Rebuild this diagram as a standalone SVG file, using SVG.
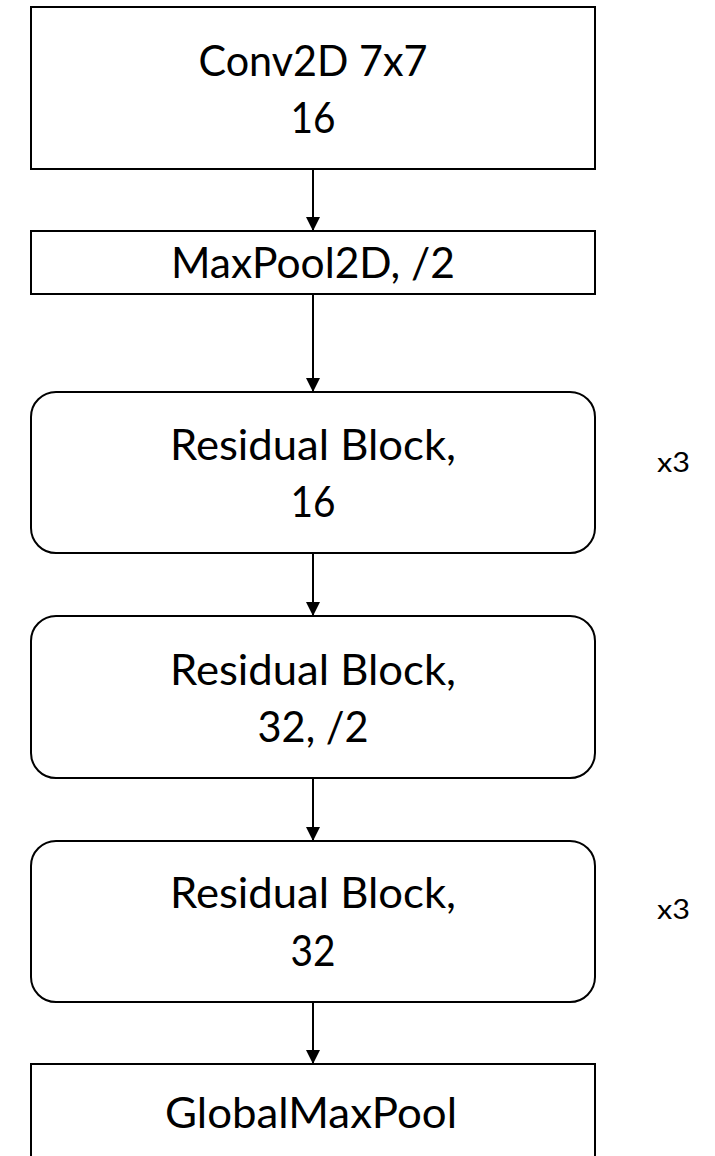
<svg xmlns="http://www.w3.org/2000/svg" width="715" height="1156" viewBox="0 0 715 1156">
  <defs>
    <marker id="arrow" markerWidth="14" markerHeight="14" refX="14" refY="7" orient="auto" markerUnits="userSpaceOnUse">
      <path d="M0,0 L14,7 L0,14 Z" fill="#000"/>
    </marker>
    <style>
      .box { fill: #ffffff; stroke: #000000; stroke-width: 2; }
      .lbl { font-family: Lato, "Open Sans", sans-serif; font-size: 42px; fill: #000000; text-anchor: middle; }
      .side { font-family: Lato, "Open Sans", sans-serif; font-size: 26px; fill: #000000; }
      .conn { stroke: #000000; stroke-width: 2; fill: none; marker-end: url(#arrow); }
    </style>
  </defs>
  <rect width="715" height="1156" fill="#ffffff"/>

  <g id="connectors">
    <line class="conn" x1="313" y1="169" x2="313" y2="231"/>
    <line class="conn" x1="313" y1="294" x2="313" y2="392"/>
    <line class="conn" x1="313" y1="553" x2="313" y2="616"/>
    <line class="conn" x1="313" y1="778" x2="313" y2="841"/>
    <line class="conn" x1="313" y1="1002" x2="313" y2="1064"/>
  </g>

  <g id="conv2d">
    <rect class="box" x="31" y="7" width="564" height="162"/>
    <text class="lbl" x="313" y="76" textLength="229" lengthAdjust="spacingAndGlyphs">Conv2D 7x7</text>
    <text class="lbl" x="313" y="133" textLength="45" lengthAdjust="spacingAndGlyphs">16</text>
  </g>

  <g id="maxpool">
    <rect class="box" x="31" y="231" width="564" height="63"/>
    <text class="lbl" x="313" y="278" textLength="284" lengthAdjust="spacingAndGlyphs">MaxPool2D, /2</text>
  </g>

  <g id="res16">
    <rect class="box" x="31" y="392" width="564" height="161" rx="25" ry="25"/>
    <text class="lbl" x="313" y="460" textLength="286" lengthAdjust="spacingAndGlyphs">Residual Block,</text>
    <text class="lbl" x="313" y="517" textLength="45" lengthAdjust="spacingAndGlyphs">16</text>
  </g>
  <text id="rep1" class="side" x="657" y="472" textLength="33" lengthAdjust="spacingAndGlyphs">x3</text>

  <g id="res32s2">
    <rect class="box" x="31" y="616" width="564" height="162" rx="25" ry="25"/>
    <text class="lbl" x="313" y="685" textLength="286" lengthAdjust="spacingAndGlyphs">Residual Block,</text>
    <text class="lbl" x="313" y="742" textLength="111" lengthAdjust="spacingAndGlyphs">32, /2</text>
  </g>

  <g id="res32">
    <rect class="box" x="31" y="841" width="564" height="161" rx="25" ry="25"/>
    <text class="lbl" x="313" y="908" textLength="286" lengthAdjust="spacingAndGlyphs">Residual Block,</text>
    <text class="lbl" x="313" y="966" textLength="45" lengthAdjust="spacingAndGlyphs">32</text>
  </g>
  <text id="rep2" class="side" x="657" y="919" textLength="33" lengthAdjust="spacingAndGlyphs">x3</text>

  <g id="globalmaxpool">
    <rect class="box" x="31" y="1064" width="564" height="100"/>
    <text class="lbl" x="311" y="1128" textLength="292" lengthAdjust="spacingAndGlyphs">GlobalMaxPool</text>
  </g>
</svg>
